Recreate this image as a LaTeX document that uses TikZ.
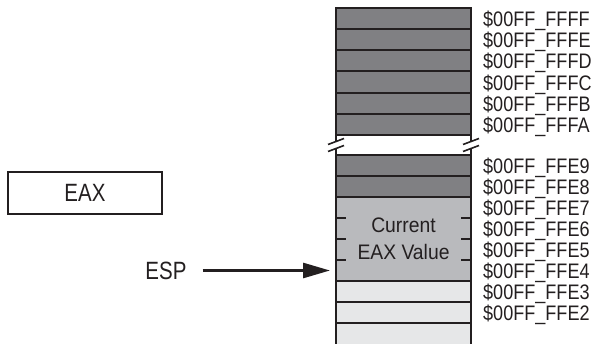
\documentclass[tikz,border=0pt]{standalone}
\usepackage{fontspec}
\setmainfont{Liberation Sans}
\newfontfamily\labfont[FakeStretch=0.86]{Liberation Sans}
\newfontfamily\bigfont[FakeStretch=0.82]{Liberation Sans}
\newfontfamily\curfont[FakeStretch=0.92]{Liberation Sans}
\usetikzlibrary{arrows.meta}
\definecolor{lc}{HTML}{231F20}
\definecolor{dk}{HTML}{808083}
\definecolor{md}{HTML}{B9BABD}
\definecolor{lt}{HTML}{E6E7E8}
\begin{document}
\begin{tikzpicture}[x=1pt,y=-1pt,
  cellbox/.style={draw=lc, line width=2pt, minimum width=135pt, inner sep=0pt, outer sep=0pt, anchor=north west},
  upcell/.style={cellbox, fill=dk, minimum height=21.17pt},
  dkcell/.style={cellbox, fill=dk, minimum height=21pt},
  ltcell/.style={cellbox, fill=lt, minimum height=21pt},
  hid/.style={minimum width=135pt, minimum height=21pt, inner sep=0pt, outer sep=0pt, anchor=north west},
  lab/.style={anchor=west, inner sep=0pt, font=\labfont\fontsize{21}{22}\selectfont, text=lc},
  big/.style={inner sep=0pt, font=\bigfont\fontsize{25}{27}\selectfont, text=lc},
  brk/.style={draw=lc, line width=1.6pt},
  tick/.style={draw=lc, line width=1.6pt}
]
\useasboundingbox (0,0) rectangle (594,344);
% upper rows
\foreach \i in {0,...,5} {
  \node[upcell] (u\i) at (336,{8+21.1667*\i}) {};
}
% gap
\draw[lc, line width=2pt] (336,135) -- (336,141.5) (336,148.5) -- (336,155);
\draw[lc, line width=2pt] (471,135) -- (471,141.5) (471,148.5) -- (471,155);
\draw[brk] (328,144.5) -- (344,138.5);
\draw[brk] (328,151.5) -- (344,145.5);
\draw[brk] (463,144.5) -- (479,138.5);
\draw[brk] (463,151.5) -- (479,145.5);
% lower rows
\node[dkcell] (d9) at (336,155) {};
\node[dkcell] (d8) at (336,176) {};
\node[cellbox, fill=md, minimum height=84pt, align=center,
      font=\curfont\fontsize{21}{27}\selectfont, text=lc] (cur) at (336,197) {Current\\EAX Value};
\node[hid] (d7) at (336,197) {};
\node[hid] (d6) at (336,218) {};
\node[hid] (d5) at (336,239) {};
\node[hid] (d4) at (336,260) {};
\node[ltcell] (d3) at (336,281) {};
\node[ltcell] (d2) at (336,302) {};
\node[ltcell, minimum height=24pt] (d1) at (336,323) {};
% ticks
\foreach \y in {218,239,260} {
  \draw[tick] (336,\y) -- (346,\y);
  \draw[tick] (461,\y) -- (471,\y);
}
% labels
\node[lab] (lFFFF) at (483,21) {\$00FF\_FFFF};
\node[lab] (lFFFE) at (483,42.2) {\$00FF\_FFFE};
\node[lab] (lFFFD) at (483,63.3) {\$00FF\_FFFD};
\node[lab] (lFFFC) at (483,84.5) {\$00FF\_FFFC};
\node[lab] (lFFFB) at (483,105.7) {\$00FF\_FFFB};
\node[lab] (lFFFA) at (483,126.8) {\$00FF\_FFFA};
\node[lab] (lFFE9) at (483,167.5) {\$00FF\_FFE9};
\node[lab] (lFFE8) at (483,188.5) {\$00FF\_FFE8};
\node[lab] (lFFE7) at (483,209.5) {\$00FF\_FFE7};
\node[lab] (lFFE6) at (483,230.5) {\$00FF\_FFE6};
\node[lab] (lFFE5) at (483,251.5) {\$00FF\_FFE5};
\node[lab] (lFFE4) at (483,272.5) {\$00FF\_FFE4};
\node[lab] (lFFE3) at (483,293.5) {\$00FF\_FFE3};
\node[lab] (lFFE2) at (483,314.5) {\$00FF\_FFE2};
% EAX box
\node[draw=lc, line width=2pt, minimum width=154pt, minimum height=42pt, inner sep=0pt,
      font=\bigfont\fontsize{25}{27}\selectfont, text=lc] (eax) at (85,193) {EAX};
% ESP
\node[big] (esp) at (166,270.5) {ESP};
\draw[lc, line width=2.7pt, -{Triangle[length=27pt,width=15pt]}, shorten <=16pt, shorten >=6pt] (esp) -- (d4);
\end{tikzpicture}
\end{document}
